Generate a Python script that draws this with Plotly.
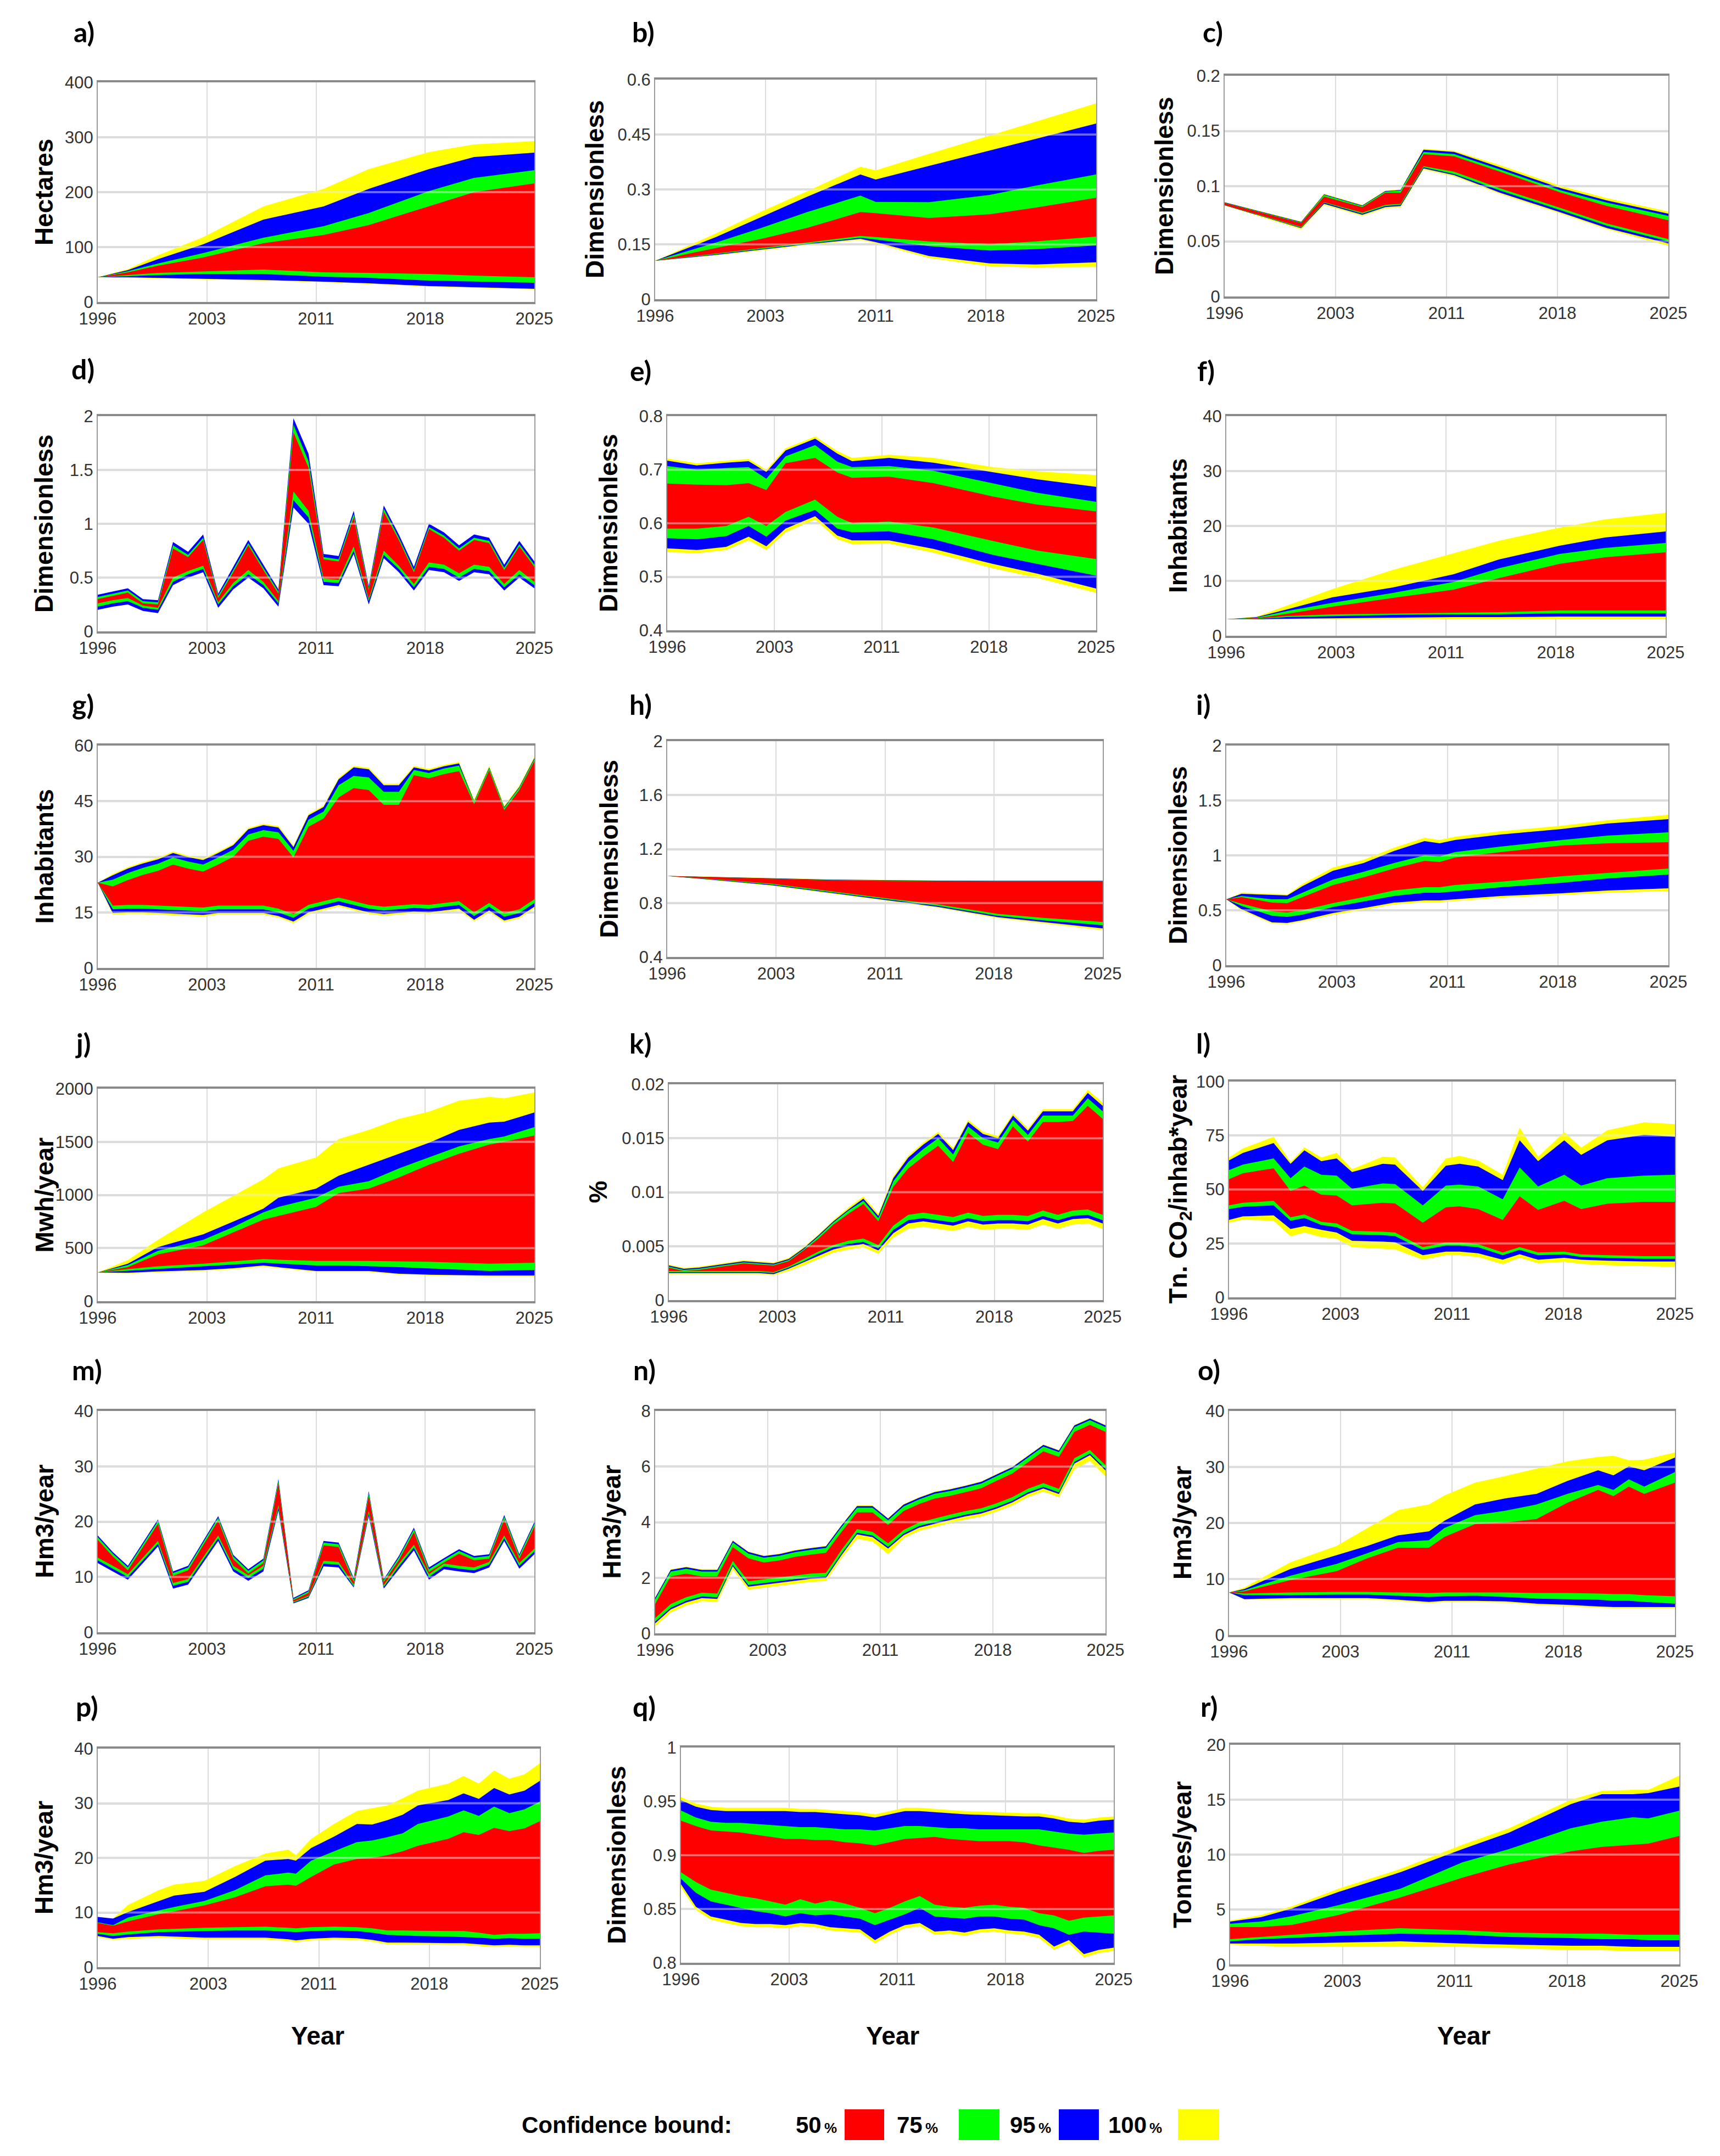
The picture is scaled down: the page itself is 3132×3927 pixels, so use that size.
import plotly.graph_objects as go

W, H = 3132, 3927
X_TICKVALS = [1996, 2003.25, 2010.5, 2017.75, 2025]
X_TICKTEXT = ["1996", "2003", "2011", "2018", "2025"]
YEARS = list(range(1996, 2026))

COL_100 = "#ffff00"
COL_95 = "#0000ff"
COL_75 = "#00ff00"
COL_50 = "#ff0000"

# ---------------- a) Hectares ----------------
a_years = [1996, 1998, 2000, 2003, 2007, 2011, 2014, 2018, 2021, 2025]
a_hi100 = [45, 60, 85, 118, 174, 206, 242, 273, 287, 293]
a_hi95 = [45, 58, 78, 105, 150, 174, 206, 242, 264, 272]
a_hi75 = [45, 56, 70, 89, 117, 138, 162, 202, 226, 240]
a_hi50 = [45, 54, 66, 81, 107, 122, 140, 174, 200, 216]
a_lo50 = [45, 49, 53, 56, 59, 54, 53, 51, 48, 45]
a_lo75 = [45, 47, 49, 51, 51, 46, 44, 39, 37, 35]
a_lo95 = [45, 45, 44, 42, 40, 37, 34, 29, 27, 24]
a_lo100 = [45, 44, 43, 41, 39, 36, 33, 28, 26, 23]

# ---------------- b) ----------------
b_years = [1996, 2000, 2003, 2006, 2009.5, 2010.5, 2014, 2018, 2021, 2025]
b_hi100 = [0.105, 0.18, 0.24, 0.295, 0.362, 0.352, 0.397, 0.447, 0.485, 0.535]
b_hi95 = [0.105, 0.17, 0.225, 0.28, 0.341, 0.327, 0.364, 0.406, 0.438, 0.48]
b_hi75 = [0.105, 0.155, 0.195, 0.238, 0.283, 0.266, 0.265, 0.285, 0.31, 0.341]
b_hi50 = [0.105, 0.14, 0.165, 0.195, 0.238, 0.235, 0.222, 0.232, 0.25, 0.277]
b_lo50 = [0.105, 0.125, 0.14, 0.155, 0.173, 0.17, 0.158, 0.15, 0.158, 0.171]
b_lo75 = [0.105, 0.123, 0.137, 0.152, 0.168, 0.163, 0.145, 0.133, 0.137, 0.147]
b_lo95 = [0.105, 0.121, 0.135, 0.15, 0.165, 0.156, 0.118, 0.098, 0.095, 0.101]
b_lo100 = [0.105, 0.12, 0.133, 0.148, 0.162, 0.153, 0.113, 0.09, 0.087, 0.088]

# ---------------- c) ----------------
c_years = [1996, 2001, 2002.5, 2005, 2006.5, 2007.5, 2009, 2011, 2014, 2018, 2021, 2025]
c_hi100 = [0.0855, 0.068, 0.093, 0.083, 0.096, 0.097, 0.134, 0.132, 0.119, 0.100, 0.089, 0.077]
c_hi95 = [0.0853, 0.0675, 0.0925, 0.0825, 0.0955, 0.0965, 0.133, 0.131, 0.117, 0.098, 0.087, 0.075]
c_hi75 = [0.0850, 0.067, 0.092, 0.082, 0.095, 0.096, 0.131, 0.129, 0.115, 0.096, 0.085, 0.073]
c_hi50 = [0.0847, 0.0665, 0.0905, 0.081, 0.094, 0.094, 0.129, 0.127, 0.113, 0.094, 0.082, 0.069]
c_lo50 = [0.0830, 0.0630, 0.0855, 0.076, 0.083, 0.084, 0.118, 0.113, 0.098, 0.080, 0.066, 0.052]
c_lo75 = [0.0828, 0.0625, 0.085, 0.075, 0.082, 0.083, 0.117, 0.111, 0.096, 0.078, 0.064, 0.050]
c_lo95 = [0.0826, 0.062, 0.084, 0.074, 0.081, 0.082, 0.116, 0.110, 0.094, 0.076, 0.062, 0.048]
c_lo100 = [0.0824, 0.061, 0.083, 0.073, 0.080, 0.081, 0.115, 0.109, 0.093, 0.075, 0.061, 0.046]

# ---------------- d) (yearly) ----------------
d_hi95 = [0.34, 0.37, 0.40, 0.30, 0.29, 0.83, 0.74, 0.90, 0.35, 0.60, 0.85, 0.62, 0.39, 1.98, 1.65,
          0.72, 0.70, 1.12, 0.42, 1.17, 0.90, 0.60, 1.00, 0.92, 0.80, 0.90, 0.87, 0.62, 0.84, 0.65]
d_hi75 = [0.32, 0.35, 0.38, 0.28, 0.27, 0.80, 0.71, 0.87, 0.33, 0.57, 0.82, 0.59, 0.37, 1.92, 1.58,
          0.69, 0.67, 1.09, 0.40, 1.14, 0.87, 0.57, 0.97, 0.89, 0.77, 0.87, 0.84, 0.59, 0.81, 0.62]
d_hi50 = [0.30, 0.33, 0.36, 0.26, 0.25, 0.77, 0.69, 0.85, 0.31, 0.55, 0.80, 0.57, 0.35, 1.85, 1.52,
          0.67, 0.65, 1.06, 0.38, 1.11, 0.85, 0.55, 0.95, 0.87, 0.75, 0.85, 0.82, 0.57, 0.79, 0.60]
d_lo50 = [0.26, 0.29, 0.31, 0.24, 0.22, 0.50, 0.56, 0.61, 0.27, 0.45, 0.57, 0.46, 0.28, 1.30, 1.12,
          0.49, 0.48, 0.79, 0.30, 0.75, 0.61, 0.44, 0.64, 0.62, 0.54, 0.62, 0.60, 0.44, 0.57, 0.46]
d_lo75 = [0.23, 0.26, 0.28, 0.22, 0.20, 0.46, 0.53, 0.58, 0.25, 0.42, 0.53, 0.43, 0.26, 1.22, 1.06,
          0.46, 0.45, 0.75, 0.28, 0.71, 0.58, 0.41, 0.60, 0.58, 0.50, 0.58, 0.56, 0.41, 0.53, 0.43]
d_lo95 = [0.20, 0.23, 0.25, 0.19, 0.17, 0.43, 0.50, 0.55, 0.22, 0.39, 0.50, 0.40, 0.23, 1.15, 1.00,
          0.43, 0.42, 0.72, 0.25, 0.68, 0.55, 0.38, 0.57, 0.55, 0.47, 0.55, 0.53, 0.38, 0.50, 0.40]

# ---------------- e) ----------------
e_years = [1996, 1998, 2000, 2001.5, 2002.7, 2004, 2006, 2007.5, 2008.5, 2011, 2014, 2018, 2021, 2025]
e_hi100 = [0.721, 0.712, 0.717, 0.720, 0.700, 0.740, 0.762, 0.735, 0.722, 0.728, 0.722, 0.705, 0.697, 0.690]
e_hi95 = [0.717, 0.708, 0.713, 0.716, 0.696, 0.736, 0.758, 0.730, 0.716, 0.722, 0.713, 0.695, 0.682, 0.668]
e_hi75 = [0.707, 0.700, 0.703, 0.705, 0.683, 0.725, 0.746, 0.715, 0.705, 0.707, 0.698, 0.675, 0.657, 0.640]
e_hi50 = [0.674, 0.672, 0.671, 0.675, 0.662, 0.712, 0.722, 0.695, 0.685, 0.687, 0.675, 0.650, 0.635, 0.622]
e_lo50 = [0.590, 0.590, 0.595, 0.612, 0.595, 0.621, 0.644, 0.612, 0.600, 0.603, 0.592, 0.567, 0.549, 0.533]
e_lo75 = [0.572, 0.570, 0.576, 0.595, 0.575, 0.605, 0.625, 0.590, 0.583, 0.585, 0.570, 0.541, 0.524, 0.502]
e_lo95 = [0.553, 0.550, 0.556, 0.575, 0.557, 0.590, 0.613, 0.577, 0.568, 0.568, 0.552, 0.524, 0.506, 0.478]
e_lo100 = [0.546, 0.544, 0.550, 0.568, 0.550, 0.583, 0.607, 0.570, 0.561, 0.562, 0.545, 0.516, 0.498, 0.470]

# ---------------- f) ----------------
f_years = [1996, 1998, 2000, 2003, 2007, 2011, 2014, 2018, 2021, 2025]
f_hi100 = [3.0, 3.5, 5.5, 8.5, 12.0, 15.0, 17.3, 19.7, 21.2, 22.4]
f_hi95 = [3.0, 3.4, 4.8, 7.0, 8.8, 11.2, 13.9, 16.4, 17.9, 19.0]
f_hi75 = [3.0, 3.3, 4.5, 6.0, 7.8, 9.8, 12.3, 14.9, 16.0, 16.9]
f_hi50 = [3.0, 3.2, 4.0, 5.3, 6.9, 8.4, 10.5, 13.1, 14.3, 15.2]
f_lo50 = [3.0, 3.1, 3.6, 3.9, 4.1, 4.2, 4.3, 4.6, 4.6, 4.6]
f_lo75 = [3.0, 3.05, 3.4, 3.6, 3.8, 3.9, 3.9, 4.1, 4.1, 4.1]
f_lo95 = [3.0, 3.0, 3.1, 3.2, 3.3, 3.4, 3.4, 3.5, 3.5, 3.5]
f_lo100 = [3.0, 2.95, 2.95, 3.0, 3.0, 3.1, 3.1, 3.1, 3.1, 3.1]

# ---------------- g) (yearly) ----------------
g_hi100 = [23, 25.4, 27.2, 28.6, 29.7, 31.4, 30.3, 29.5, 31.4, 33.5, 37.8, 38.9, 38.3, 33.0, 41.6,
           43.8, 51.3, 54.5, 54.0, 49.7, 49.7, 54.5, 53.7, 54.8, 55.6, 45.4, 54.5, 43.8, 49.2, 57.0]
g_hi95 = [23, 25.0, 26.8, 28.2, 29.3, 31.0, 29.9, 29.1, 31.0, 33.1, 37.4, 38.5, 37.9, 32.6, 41.2,
          43.4, 50.9, 54.1, 53.6, 49.3, 49.3, 54.1, 53.3, 54.4, 55.2, 45.0, 54.1, 43.4, 48.8, 56.6]
g_hi75 = [23, 23.8, 25.6, 27.0, 28.1, 29.8, 28.7, 27.9, 29.8, 31.9, 36.0, 37.2, 36.6, 31.6, 40.0,
          42.2, 49.3, 51.8, 51.4, 47.5, 47.5, 53.4, 52.6, 53.8, 54.6, 44.8, 53.9, 43.2, 48.6, 56.3]
g_hi50 = [23, 22.0, 23.7, 25.1, 26.2, 27.9, 26.8, 26.0, 27.9, 30.0, 34.3, 35.4, 34.8, 29.8, 38.1,
          40.3, 46.0, 48.5, 48.0, 44.0, 44.0, 52.0, 51.2, 52.3, 53.1, 44.2, 53.3, 42.6, 48.0, 55.8]
g_lo50 = [23, 16.8, 17.0, 17.0, 16.8, 16.7, 16.5, 16.3, 16.8, 16.8, 16.8, 16.8, 16.0, 14.5, 17.0,
          18.0, 19.0, 18.0, 17.0, 16.5, 16.8, 17.2, 17.0, 17.5, 18.0, 15.0, 17.5, 14.8, 15.8, 18.5]
g_lo75 = [23, 15.8, 16.0, 16.0, 15.8, 15.7, 15.5, 15.3, 15.8, 15.8, 15.8, 15.8, 15.0, 13.5, 16.0,
          17.0, 18.0, 17.0, 16.0, 15.5, 15.8, 16.2, 16.0, 16.5, 17.0, 14.0, 16.5, 13.8, 14.8, 17.5]
g_lo95 = [23, 14.8, 15.0, 15.0, 14.8, 14.7, 14.5, 14.3, 14.8, 14.8, 14.8, 14.8, 14.0, 12.5, 15.0,
          16.0, 17.0, 16.0, 15.0, 14.5, 14.8, 15.2, 15.0, 15.5, 16.0, 13.0, 15.5, 12.8, 13.8, 16.5]
g_lo100 = [23, 14.4, 14.6, 14.6, 14.4, 14.3, 14.1, 13.9, 14.4, 14.4, 14.4, 14.4, 13.6, 12.1, 14.6,
           15.6, 16.6, 15.6, 14.6, 14.1, 14.4, 14.8, 14.6, 15.1, 15.6, 12.6, 15.1, 12.4, 13.4, 16.1]

# ---------------- h) ----------------
h_years = [1996, 1999, 2003, 2007, 2011, 2014, 2018, 2021, 2025]
h_hi100 = [1.0, 0.995, 0.985, 0.975, 0.970, 0.968, 0.967, 0.967, 0.967]
h_hi95 = [1.0, 0.994, 0.983, 0.973, 0.968, 0.966, 0.965, 0.965, 0.965]
h_hi75 = [1.0, 0.993, 0.981, 0.971, 0.966, 0.964, 0.963, 0.963, 0.963]
h_hi50 = [1.0, 0.992, 0.979, 0.969, 0.964, 0.962, 0.961, 0.961, 0.961]
h_lo50 = [1.0, 0.978, 0.942, 0.885, 0.830, 0.790, 0.720, 0.690, 0.660]
h_lo75 = [1.0, 0.975, 0.936, 0.878, 0.822, 0.780, 0.705, 0.672, 0.635]
h_lo95 = [1.0, 0.972, 0.931, 0.872, 0.815, 0.772, 0.695, 0.660, 0.612]
h_lo100 = [1.0, 0.970, 0.928, 0.868, 0.810, 0.766, 0.688, 0.652, 0.600]

# ---------------- i) ----------------
i_years = [1996, 1997, 1999, 2000, 2001, 2003, 2005, 2007, 2009, 2010, 2011, 2014, 2018, 2021, 2025]
i_hi100 = [0.60, 0.66, 0.65, 0.645, 0.74, 0.89, 0.96, 1.07, 1.16, 1.14, 1.17, 1.22, 1.27, 1.32, 1.37]
i_hi95 = [0.60, 0.65, 0.64, 0.635, 0.72, 0.86, 0.93, 1.04, 1.13, 1.11, 1.14, 1.19, 1.24, 1.29, 1.33]
i_hi75 = [0.60, 0.63, 0.60, 0.60, 0.66, 0.78, 0.85, 0.93, 1.00, 0.99, 1.03, 1.08, 1.14, 1.18, 1.21]
i_hi50 = [0.60, 0.62, 0.57, 0.565, 0.62, 0.73, 0.80, 0.88, 0.95, 0.94, 0.98, 1.03, 1.09, 1.11, 1.12]
i_lo50 = [0.60, 0.56, 0.49, 0.48, 0.50, 0.565, 0.62, 0.68, 0.71, 0.71, 0.73, 0.76, 0.81, 0.84, 0.88]
i_lo75 = [0.60, 0.54, 0.45, 0.44, 0.46, 0.53, 0.58, 0.63, 0.66, 0.66, 0.67, 0.71, 0.75, 0.79, 0.825]
i_lo95 = [0.60, 0.51, 0.39, 0.385, 0.41, 0.475, 0.52, 0.57, 0.59, 0.59, 0.60, 0.63, 0.655, 0.68, 0.70]
i_lo100 = [0.60, 0.50, 0.38, 0.375, 0.40, 0.46, 0.505, 0.555, 0.575, 0.575, 0.585, 0.615, 0.64, 0.66, 0.675]

# ---------------- j) ----------------
j_years = [1996, 1998, 2000, 2003, 2005, 2007, 2008, 2010.5, 2012, 2014, 2016, 2018, 2020, 2022, 2023, 2025]
j_hi100 = [270, 388, 578, 836, 991, 1147, 1250, 1353, 1526, 1612, 1716, 1784, 1888, 1922, 1910, 1965]
j_hi95 = [270, 353, 509, 629, 750, 871, 974, 1060, 1181, 1284, 1388, 1491, 1612, 1681, 1690, 1776]
j_hi75 = [270, 340, 474, 578, 698, 836, 888, 974, 1078, 1129, 1250, 1353, 1457, 1526, 1550, 1638]
j_hi50 = [270, 320, 440, 526, 647, 767, 802, 888, 1017, 1060, 1164, 1284, 1388, 1474, 1500, 1560]
j_lo50 = [270, 302, 328, 353, 375, 397, 390, 379, 379, 379, 375, 371, 362, 353, 355, 362]
j_lo75 = [270, 285, 305, 328, 345, 362, 355, 336, 336, 330, 320, 310, 297, 284, 288, 293]
j_lo95 = [270, 267, 280, 293, 310, 336, 320, 284, 284, 284, 259, 250, 245, 241, 241, 241]
j_lo100 = [270, 262, 272, 285, 300, 325, 312, 276, 276, 276, 252, 243, 238, 234, 234, 234]

# ---------------- k) (yearly) ----------------
k_hi100 = [0.0033, 0.0030, 0.0031, 0.0033, 0.0035, 0.0037, 0.0036, 0.0035, 0.0039, 0.0049, 0.0061, 0.0074,
           0.0086, 0.0096, 0.0080, 0.0115, 0.0134, 0.0146, 0.0156, 0.0141, 0.0167, 0.0156, 0.0152, 0.0173,
           0.0159, 0.0177, 0.0177, 0.0177, 0.0195, 0.0183]
k_hi95 = [0.0032, 0.0029, 0.0030, 0.0032, 0.0034, 0.0036, 0.0035, 0.0034, 0.0038, 0.0048, 0.0060, 0.0073,
          0.0084, 0.0094, 0.0078, 0.0113, 0.0132, 0.0144, 0.0154, 0.0139, 0.0165, 0.0154, 0.0150, 0.0171,
          0.0157, 0.0175, 0.0175, 0.0175, 0.0192, 0.0180]
k_hi75 = [0.0031, 0.0028, 0.0029, 0.0031, 0.0033, 0.0035, 0.0034, 0.0033, 0.0037, 0.0047, 0.0059, 0.0072,
          0.0083, 0.0092, 0.0076, 0.0110, 0.0128, 0.0140, 0.0150, 0.0135, 0.0161, 0.0150, 0.0146, 0.0167,
          0.0153, 0.0171, 0.0171, 0.0171, 0.0187, 0.0175]
k_hi50 = [0.0030, 0.0027, 0.0028, 0.0030, 0.0032, 0.0034, 0.0033, 0.0032, 0.0036, 0.0046, 0.0057, 0.0070,
          0.0080, 0.0089, 0.0073, 0.0105, 0.0122, 0.0133, 0.0143, 0.0128, 0.0155, 0.0144, 0.0140, 0.0161,
          0.0147, 0.0165, 0.0165, 0.0166, 0.0180, 0.0168]
k_lo50 = [0.0027, 0.0027, 0.0027, 0.0027, 0.0027, 0.0027, 0.0027, 0.0026, 0.0031, 0.0038, 0.0045, 0.0051,
          0.0055, 0.0057, 0.0051, 0.0069, 0.0079, 0.0081, 0.0079, 0.0077, 0.0081, 0.0078, 0.0079, 0.0079,
          0.0078, 0.0083, 0.0079, 0.0083, 0.0084, 0.0079]
k_lo75 = [0.0026, 0.0026, 0.0026, 0.0026, 0.0026, 0.0026, 0.0026, 0.0025, 0.0030, 0.0036, 0.0043, 0.0049,
          0.0052, 0.0054, 0.0048, 0.0065, 0.0074, 0.0076, 0.0074, 0.0072, 0.0076, 0.0073, 0.0074, 0.0074,
          0.0073, 0.0078, 0.0074, 0.0078, 0.0079, 0.0074]
k_lo95 = [0.0025, 0.0025, 0.0025, 0.0025, 0.0025, 0.0025, 0.0025, 0.0024, 0.0029, 0.0035, 0.0041, 0.0047,
          0.0050, 0.0052, 0.0046, 0.0062, 0.0071, 0.0073, 0.0071, 0.0069, 0.0073, 0.0070, 0.0071, 0.0071,
          0.0070, 0.0075, 0.0071, 0.0075, 0.0076, 0.0071]
k_lo100 = [0.0024, 0.0024, 0.0024, 0.0024, 0.0024, 0.0024, 0.0024, 0.0023, 0.0027, 0.0032, 0.0038, 0.0044,
           0.0047, 0.0049, 0.0043, 0.0058, 0.0066, 0.0068, 0.0066, 0.0064, 0.0068, 0.0065, 0.0066, 0.0066,
           0.0065, 0.0070, 0.0066, 0.0070, 0.0071, 0.0066]

# ---------------- l) ----------------
l_years = [1996, 1996.9, 1998.9, 2000, 2000.9, 2002, 2003, 2004, 2006, 2006.8, 2008.6, 2010.1, 2011,
           2012.2, 2013.8, 2014.9, 2016.1, 2017.8, 2018.9, 2020.6, 2023, 2025]
l_hi100 = [64.8, 69.0, 74.4, 62.7, 69.5, 64.8, 67.0, 59.4, 65.2, 64.8, 51.0, 64.4, 65.6,
           63.5, 56.8, 78.6, 65.2, 76.5, 69.4, 77.4, 81.1, 80.3]
l_hi95 = [63.5, 66.9, 71.5, 61.9, 68.1, 63.1, 64.4, 58.1, 61.9, 61.5, 49.3, 61.0, 61.9,
          60.6, 54.3, 72.8, 63.1, 72.8, 66.0, 72.8, 75.3, 74.4]
l_hi75 = [59.0, 61.5, 64.4, 55.2, 60.6, 56.8, 56.4, 50.3, 52.8, 52.5, 42.6, 51.8, 52.2,
          51.4, 45.4, 60.2, 51.4, 56.8, 51.8, 55.2, 56.4, 56.8]
l_hi50 = [54.8, 57.5, 59.8, 49.3, 51.8, 47.6, 47.2, 42.6, 43.8, 43.5, 34.6, 41.7, 42.2,
          40.9, 35.9, 46.8, 40.5, 44.7, 40.9, 43.4, 44.3, 44.3]
l_lo50 = [42.6, 43.8, 44.7, 37.1, 38.4, 35.0, 34.2, 30.8, 30.4, 30.0, 23.3, 25.4, 25.4,
          24.6, 20.8, 23.3, 20.8, 21.2, 19.9, 19.5, 19.1, 19.1]
l_lo75 = [40.9, 42.0, 42.6, 35.5, 36.8, 33.5, 32.5, 29.2, 28.8, 28.4, 22.0, 24.0, 24.0,
          23.2, 19.5, 22.0, 19.5, 19.9, 18.7, 18.3, 17.9, 17.9]
l_lo95 = [35.9, 37.5, 38.0, 31.7, 33.0, 31.3, 30.0, 26.2, 25.8, 25.5, 19.5, 21.2, 21.2,
          20.4, 17.4, 20.0, 17.4, 18.3, 17.4, 17.0, 16.6, 16.6]
l_lo100 = [34.6, 36.0, 35.5, 28.3, 30.0, 27.9, 27.1, 23.3, 22.5, 22.2, 17.4, 19.5, 19.5,
           18.7, 15.3, 18.3, 15.8, 16.5, 15.5, 14.9, 14.5, 14.1]

# ---------------- m) (yearly) ----------------
m_hi95 = [17.5, 14.5, 12.0, 16.2, 20.4, 11.0, 12.0, 16.5, 21.0, 14.0, 11.4, 13.3, 27.7, 6.2, 7.6,
          16.5, 16.2, 9.8, 25.5, 9.6, 13.8, 18.9, 11.7, 13.4, 15.0, 13.8, 14.1, 21.2, 14.1, 19.9]
m_hi75 = [17.2, 14.2, 11.7, 15.9, 20.1, 10.7, 11.7, 16.2, 20.7, 13.7, 11.1, 13.0, 27.4, 6.0, 7.4,
          16.2, 15.9, 9.5, 25.2, 9.4, 13.5, 18.6, 11.4, 13.1, 14.7, 13.5, 13.8, 20.9, 13.8, 19.6]
m_hi50 = [16.7, 13.7, 11.2, 15.4, 19.6, 10.2, 11.2, 15.7, 20.2, 13.2, 10.6, 12.5, 26.9, 5.8, 7.1,
          15.7, 15.4, 9.1, 24.7, 9.1, 13.0, 18.1, 10.9, 12.6, 14.2, 13.0, 13.3, 20.4, 13.3, 19.1]
m_lo50 = [13.5, 12.0, 10.5, 13.5, 16.5, 8.9, 9.6, 13.5, 17.5, 12.0, 10.3, 12.0, 23.0, 5.5, 6.6,
          12.9, 12.7, 8.6, 22.0, 8.5, 12.4, 15.8, 10.5, 12.4, 12.0, 11.7, 12.7, 17.5, 12.5, 15.1]
m_lo75 = [13.0, 11.5, 10.0, 13.0, 16.0, 8.4, 9.1, 13.0, 17.0, 11.5, 9.8, 11.5, 22.5, 5.35, 6.4,
          12.4, 12.2, 8.3, 21.5, 8.2, 11.9, 15.3, 10.0, 11.9, 11.5, 11.2, 12.2, 17.0, 12.0, 14.6]
m_lo95 = [12.5, 11.0, 9.5, 12.5, 15.5, 7.9, 8.6, 12.5, 16.5, 11.0, 9.3, 11.0, 22.0, 5.2, 6.2,
          11.9, 11.7, 8.1, 21.0, 7.9, 11.4, 14.8, 9.5, 11.4, 11.0, 10.7, 11.7, 16.5, 11.5, 14.1]

# ---------------- n) (yearly) ----------------
n_hi100 = [1.3, 2.3, 2.4, 2.3, 2.3, 3.35, 2.95, 2.8, 2.87, 3.0, 3.08, 3.15, 3.9, 4.6, 4.6,
           4.15, 4.65, 4.9, 5.1, 5.2, 5.33, 5.47, 5.74, 6.0, 6.4, 6.8, 6.6, 7.5, 7.75, 7.5]
n_hi95 = [1.28, 2.28, 2.38, 2.28, 2.28, 3.33, 2.93, 2.78, 2.85, 2.98, 3.06, 3.13, 3.88, 4.58, 4.58,
          4.13, 4.63, 4.88, 5.08, 5.18, 5.31, 5.45, 5.72, 5.98, 6.38, 6.78, 6.58, 7.48, 7.73, 7.48]
n_hi75 = [1.22, 2.22, 2.32, 2.22, 2.22, 3.27, 2.87, 2.72, 2.79, 2.92, 3.0, 3.07, 3.82, 4.52, 4.52,
          4.07, 4.57, 4.82, 5.02, 5.12, 5.25, 5.39, 5.66, 5.92, 6.32, 6.72, 6.52, 7.42, 7.67, 7.42]
n_hi50 = [1.05, 2.05, 2.15, 2.05, 2.05, 3.1, 2.7, 2.55, 2.62, 2.75, 2.83, 2.9, 3.65, 4.35, 4.35,
          3.9, 4.4, 4.65, 4.85, 4.95, 5.08, 5.22, 5.49, 5.75, 6.15, 6.55, 6.35, 7.25, 7.5, 7.25]
n_lo50 = [0.55, 1.05, 1.3, 1.46, 1.43, 2.6, 1.87, 1.94, 2.0, 2.08, 2.15, 2.18, 3.0, 3.75, 3.65,
          3.24, 3.72, 3.99, 4.13, 4.27, 4.4, 4.5, 4.68, 4.9, 5.2, 5.4, 5.2, 6.3, 6.6, 6.05]
n_lo75 = [0.42, 0.92, 1.17, 1.33, 1.3, 2.47, 1.74, 1.81, 1.87, 1.95, 2.02, 2.05, 2.87, 3.62, 3.52,
          3.11, 3.59, 3.86, 4.0, 4.14, 4.27, 4.37, 4.55, 4.77, 5.07, 5.27, 5.07, 6.17, 6.47, 5.92]
n_lo95 = [0.36, 0.86, 1.11, 1.27, 1.24, 2.41, 1.68, 1.75, 1.81, 1.89, 1.96, 1.99, 2.81, 3.56, 3.46,
          3.05, 3.53, 3.8, 3.94, 4.08, 4.21, 4.31, 4.49, 4.71, 5.01, 5.21, 5.01, 6.11, 6.41, 5.86]
n_lo100 = [0.25, 0.75, 1.0, 1.16, 1.13, 2.3, 1.57, 1.64, 1.7, 1.78, 1.85, 1.88, 2.7, 3.4, 3.3,
           2.85, 3.42, 3.69, 3.83, 3.97, 4.1, 4.2, 4.38, 4.6, 4.9, 5.1, 4.9, 5.9, 6.2, 5.65]

# ---------------- o) ----------------
o_years = [1996, 1997, 2000, 2003, 2005, 2007, 2009, 2010, 2012, 2014, 2016, 2018, 2020, 2021, 2022, 2023, 2025]
o_hi100 = [7.6, 8.5, 13.0, 15.9, 19.1, 22.3, 23.3, 24.9, 27.2, 28.4, 29.7, 31.0, 31.8, 32.0, 31.2, 31.3, 32.6]
o_hi95 = [7.6, 8.2, 11.8, 14.3, 15.9, 17.8, 18.5, 20.4, 23.3, 24.4, 25.2, 27.5, 29.4, 28.5, 30.1, 29.4, 31.7]
o_hi75 = [7.6, 8.0, 10.6, 12.7, 14.6, 16.6, 16.9, 19.1, 21.4, 22.2, 23.3, 25.2, 26.8, 25.9, 27.8, 26.5, 29.1]
o_hi50 = [7.6, 7.8, 9.8, 11.4, 13.7, 15.6, 15.6, 17.5, 19.8, 20.1, 20.7, 23.6, 25.9, 24.8, 26.5, 25.2, 27.2]
o_lo50 = [7.6, 7.4, 7.6, 7.7, 7.7, 7.6, 7.5, 7.6, 7.6, 7.6, 7.5, 7.5, 7.4, 7.3, 7.3, 7.1, 6.9]
o_lo75 = [7.6, 7.1, 7.1, 7.2, 7.2, 7.0, 6.8, 6.9, 7.0, 6.8, 6.5, 6.4, 6.3, 6.1, 6.1, 5.9, 5.6]
o_lo95 = [7.6, 6.4, 6.6, 6.6, 6.6, 6.3, 5.9, 6.1, 6.1, 6.0, 5.6, 5.4, 5.1, 5.0, 5.0, 5.0, 5.0]
o_lo100 = [7.6, 6.3, 6.4, 6.4, 6.4, 6.1, 5.7, 5.9, 5.9, 5.8, 5.4, 5.2, 4.9, 4.8, 4.8, 4.8, 4.8]

# ---------------- p) ----------------
p_years = [1996, 1997, 1998, 2000, 2001, 2003, 2005, 2007, 2008.5, 2009, 2010, 2011.5, 2013, 2014,
           2015, 2016, 2017, 2019, 2020, 2021, 2022, 2023, 2024, 2025]
p_hi100 = [9.2, 8.9, 11.4, 14.1, 15.1, 15.8, 18.5, 20.8, 21.5, 20.5, 23.5, 26.2, 28.6, 29.1,
           29.6, 30.9, 32.3, 33.6, 35.0, 33.6, 36.0, 34.5, 35.3, 37.3]
p_hi95 = [9.2, 8.9, 10.1, 12.1, 13.1, 13.8, 16.5, 19.5, 19.8, 19.5, 21.8, 23.9, 26.2, 26.1,
          26.9, 27.9, 29.6, 30.6, 31.8, 30.8, 32.8, 31.6, 32.3, 34.1]
p_hi75 = [8.2, 7.7, 9.1, 10.4, 11.0, 12.1, 14.1, 16.8, 17.3, 17.1, 19.5, 21.2, 22.9, 23.2,
          23.8, 24.5, 26.2, 27.6, 28.7, 27.7, 29.4, 28.2, 28.9, 30.3]
p_hi50 = [8.1, 7.6, 8.4, 9.7, 10.2, 11.3, 12.8, 14.8, 15.1, 14.9, 16.5, 18.8, 19.8, 20.0,
          20.5, 21.2, 22.2, 23.5, 24.7, 24.2, 25.5, 24.9, 25.4, 26.7]
p_lo50 = [6.4, 6.2, 6.5, 6.9, 7.0, 7.2, 7.3, 7.4, 7.2, 7.1, 7.3, 7.4, 7.3, 7.1,
          6.7, 6.7, 6.7, 6.6, 6.6, 6.3, 5.9, 6.1, 6.1, 6.2]
p_lo75 = [6.1, 5.7, 6.0, 6.4, 6.5, 6.6, 6.7, 6.7, 6.5, 6.4, 6.6, 6.7, 6.6, 6.3,
          5.9, 5.8, 5.7, 5.6, 5.5, 5.4, 5.2, 5.3, 5.2, 5.2]
p_lo95 = [5.7, 5.2, 5.5, 5.7, 5.6, 5.4, 5.4, 5.4, 5.1, 4.9, 5.2, 5.4, 5.3, 5.0,
          4.5, 4.5, 4.5, 4.4, 4.4, 4.2, 4.0, 4.1, 4.0, 4.0]
p_lo100 = [5.5, 5.0, 5.2, 5.4, 5.3, 5.1, 5.1, 5.1, 4.8, 4.6, 4.9, 5.1, 5.0, 4.7,
           4.2, 4.2, 4.2, 4.1, 4.1, 3.9, 3.7, 3.8, 3.7, 3.7]

# ---------------- q) (yearly) ----------------
q_hi100 = [0.954, 0.948, 0.945, 0.944, 0.944, 0.944, 0.944, 0.944, 0.943, 0.943, 0.942, 0.941, 0.940, 0.938, 0.941,
           0.944, 0.944, 0.943, 0.942, 0.941, 0.9405, 0.940, 0.9395, 0.939, 0.939, 0.937, 0.934, 0.933, 0.935, 0.936]
q_hi95 = [0.951, 0.945, 0.942, 0.941, 0.941, 0.941, 0.941, 0.941, 0.940, 0.940, 0.939, 0.938, 0.937, 0.935, 0.938,
          0.941, 0.941, 0.940, 0.939, 0.938, 0.9375, 0.937, 0.9365, 0.936, 0.936, 0.934, 0.931, 0.930, 0.932, 0.933]
q_hi75 = [0.9415, 0.935, 0.931, 0.930, 0.930, 0.929, 0.928, 0.927, 0.926, 0.926, 0.925, 0.924, 0.924, 0.923, 0.925,
          0.927, 0.927, 0.926, 0.925, 0.925, 0.924, 0.924, 0.924, 0.924, 0.924, 0.922, 0.920, 0.919, 0.920, 0.921]
q_hi50 = [0.932, 0.927, 0.923, 0.922, 0.921, 0.919, 0.917, 0.915, 0.915, 0.914, 0.914, 0.912, 0.911, 0.909, 0.912,
          0.915, 0.916, 0.917, 0.915, 0.914, 0.913, 0.913, 0.913, 0.912, 0.909, 0.907, 0.905, 0.902, 0.904, 0.905]
q_lo50 = [0.884, 0.875, 0.868, 0.865, 0.862, 0.860, 0.857, 0.854, 0.859, 0.855, 0.858, 0.855, 0.851, 0.846, 0.851,
          0.857, 0.862, 0.854, 0.852, 0.851, 0.853, 0.854, 0.852, 0.851, 0.846, 0.844, 0.839, 0.842, 0.843, 0.844]
q_lo75 = [0.878, 0.865, 0.857, 0.854, 0.851, 0.848, 0.846, 0.843, 0.846, 0.844, 0.845, 0.843, 0.841, 0.835, 0.840,
          0.845, 0.851, 0.843, 0.842, 0.841, 0.843, 0.843, 0.841, 0.840, 0.835, 0.832, 0.826, 0.829, 0.828, 0.827]
q_lo95 = [0.873, 0.852, 0.843, 0.840, 0.837, 0.836, 0.836, 0.835, 0.837, 0.836, 0.833, 0.832, 0.831, 0.821, 0.829,
          0.835, 0.837, 0.829, 0.830, 0.828, 0.831, 0.832, 0.830, 0.829, 0.826, 0.815, 0.821, 0.808, 0.812, 0.814]
q_lo100 = [0.870, 0.849, 0.840, 0.837, 0.834, 0.833, 0.833, 0.832, 0.834, 0.833, 0.830, 0.829, 0.828, 0.818, 0.826,
           0.832, 0.834, 0.826, 0.827, 0.825, 0.828, 0.829, 0.827, 0.826, 0.823, 0.812, 0.818, 0.805, 0.809, 0.811]

# ---------------- r) ----------------
r_years = [1996, 1998, 2000, 2003, 2007, 2011, 2014, 2018, 2020, 2022, 2023, 2025]
r_hi100 = [4.0, 4.5, 5.3, 6.9, 8.7, 10.9, 12.4, 15.0, 15.8, 15.9, 15.9, 17.2]
r_hi95 = [3.9, 4.3, 5.1, 6.6, 8.4, 10.5, 12.0, 14.6, 15.5, 15.5, 15.6, 16.2]
r_hi75 = [3.7, 3.9, 4.4, 5.4, 6.9, 9.3, 10.5, 12.4, 13.0, 13.4, 13.3, 14.0]
r_hi50 = [3.4, 3.4, 3.6, 4.5, 6.1, 7.9, 9.1, 10.3, 10.7, 10.9, 11.0, 11.7]
r_lo50 = [2.3, 2.5, 2.7, 3.0, 3.3, 3.1, 2.9, 2.8, 2.8, 2.7, 2.7, 2.7]
r_lo75 = [2.1, 2.3, 2.4, 2.6, 2.8, 2.7, 2.5, 2.4, 2.3, 2.3, 2.2, 2.2]
r_lo95 = [1.9, 1.9, 1.9, 2.0, 2.1, 1.9, 1.8, 1.7, 1.7, 1.6, 1.6, 1.6]
r_lo100 = [1.8, 1.7, 1.6, 1.6, 1.6, 1.6, 1.5, 1.3, 1.3, 1.2, 1.2, 1.2]

TICK_FONT = "Liberation Sans, Arial, sans-serif"
BOLD_FONT = "Liberation Sans, Arial, sans-serif"
LETTER_FONT = "Lato, Open Sans, sans-serif"

# panel: letter, years, bands (100,95,75,50) as (lo, hi) or None, y title, y range, dtick,
# plot box in page pixels (left, right, top, bottom), letter position, y-title x
panels = [
    ("a", a_years, [(a_lo100, a_hi100), (a_lo95, a_hi95), (a_lo75, a_hi75), (a_lo50, a_hi50)],
     "Hectares", [0, 400], 100, (170, 965, 142, 542), (145, 50), 72),
    ("b", b_years, [(b_lo100, b_hi100), (b_lo95, b_hi95), (b_lo75, b_hi75), (b_lo50, b_hi50)],
     "Dimensionless", [0, 0.6], 0.15, (1185, 1988, 137, 537), (1163, 50), 1075),
    ("c", c_years, [(c_lo100, c_hi100), (c_lo95, c_hi95), (c_lo75, c_hi75), (c_lo50, c_hi50)],
     "Dimensionless", [0, 0.2], 0.05, (2222, 3030, 130, 532), (2200, 50), 2112),
    ("d", YEARS, [None, (d_lo95, d_hi95), (d_lo75, d_hi75), (d_lo50, d_hi50)],
     "Dimensionless", [0, 2], 0.5, (170, 965, 750, 1142), (143, 664), 72),
    ("e", e_years, [(e_lo100, e_hi100), (e_lo95, e_hi95), (e_lo75, e_hi75), (e_lo50, e_hi50)],
     "Dimensionless", [0.4, 0.8], 0.1, (1207, 1988, 750, 1140), (1158, 667), 1100),
    ("f", f_years, [(f_lo100, f_hi100), (f_lo95, f_hi95), (f_lo75, f_hi75), (f_lo50, f_hi50)],
     "Inhabitants", [0, 40], 10, (2225, 3025, 750, 1150), (2188, 667), 2137),
    ("g", YEARS, [(g_lo100, g_hi100), (g_lo95, g_hi95), (g_lo75, g_hi75), (g_lo50, g_hi50)],
     "Inhabitants", [0, 60], 15, (170, 965, 1350, 1755), (143, 1275), 72),
    ("h", h_years, [(h_lo100, h_hi100), (h_lo95, h_hi95), (h_lo75, h_hi75), (h_lo50, h_hi50)],
     "Dimensionless", [0.4, 2], 0.4, (1207, 2000, 1342, 1735), (1158, 1275), 1100),
    ("i", i_years, [(i_lo100, i_hi100), (i_lo95, i_hi95), (i_lo75, i_hi75), (i_lo50, i_hi50)],
     "Dimensionless", [0, 2], 0.5, (2225, 3030, 1350, 1750), (2183, 1275), 2137),
    ("j", j_years, [(j_lo100, j_hi100), (j_lo95, j_hi95), (j_lo75, j_hi75), (j_lo50, j_hi50)],
     "Mwh/year", [0, 2000], 500, (170, 965, 1975, 2362), (143, 1892), 72),
    ("k", YEARS, [(k_lo100, k_hi100), (k_lo95, k_hi95), (k_lo75, k_hi75), (k_lo50, k_hi50)],
     "%", [0, 0.02], 0.005, (1210, 2000, 1967, 2360), (1158, 1892), 1080),
    ("l", l_years, [(l_lo100, l_hi100), (l_lo95, l_hi95), (l_lo75, l_hi75), (l_lo50, l_hi50)],
     "Tn. CO<sub>2</sub>/inhab*year", [0, 100], 25, (2230, 3042, 1962, 2355), (2183, 1892), 2140),
    ("m", YEARS, [None, (m_lo95, m_hi95), (m_lo75, m_hi75), (m_lo50, m_hi50)],
     "Hm3/year", [0, 40], 10, (170, 965, 2562, 2965), (150, 2487), 72),
    ("n", YEARS, [(n_lo100, n_hi100), (n_lo95, n_hi95), (n_lo75, n_hi75), (n_lo50, n_hi50)],
     "Hm3/year", [0, 8], 2, (1185, 2005, 2562, 2967), (1165, 2487), 1105),
    ("o", o_years, [(o_lo100, o_hi100), (o_lo95, o_hi95), (o_lo75, o_hi75), (o_lo50, o_hi50)],
     "Hm3/year", [0, 40], 10, (2230, 3042, 2562, 2970), (2193, 2487), 2145),
    ("p", p_years, [(p_lo100, p_hi100), (p_lo95, p_hi95), (p_lo75, p_hi75), (p_lo50, p_hi50)],
     "Hm3/year", [0, 40], 10, (170, 975, 3177, 3575), (150, 3100), 72),
    ("q", YEARS, [(q_lo100, q_hi100), (q_lo95, q_hi95), (q_lo75, q_hi75), (q_lo50, q_hi50)],
     "Dimensionless", [0.8, 1], 0.05, (1232, 2020, 3175, 3567), (1165, 3100), 1115),
    ("r", r_years, [(r_lo100, r_hi100), (r_lo95, r_hi95), (r_lo75, r_hi75), (r_lo50, r_hi50)],
     "Tonnes/year", [0, 20], 5, (2232, 3050, 3170, 3570), (2193, 3100), 2145),
]

BAND_COLORS = [COL_100, COL_95, COL_75, COL_50]


def fx(px):
    return px / W


def fy(py):
    return 1 - py / H


fig = go.Figure()
layout = dict(
    width=W, height=H, margin=dict(l=0, r=0, t=0, b=0),
    paper_bgcolor="white", plot_bgcolor="white", showlegend=False,
    template="none",
)
annotations = []
shapes = []

for idx, (letter, years, bands, ytitle, yrng, dtick, box, lpos, tx) in enumerate(panels):
    n = idx + 1
    sfx = "" if n == 1 else str(n)
    xa, ya = "x" + sfx, "y" + sfx
    left, right, top, bottom = box
    for band, col in zip(bands, BAND_COLORS):
        if band is None:
            continue
        lo, hi = band
        fig.add_trace(go.Scatter(
            x=list(years) + list(years)[::-1],
            y=list(hi) + list(lo)[::-1],
            fill="toself", fillcolor=col, mode="lines",
            line=dict(width=0, color=col), hoverinfo="skip",
            xaxis=xa, yaxis=ya, showlegend=False))
    layout["xaxis" + sfx] = dict(
        domain=[fx(left), fx(right)], anchor=ya, range=[1996, 2025],
        tickmode="array", tickvals=X_TICKVALS, ticktext=X_TICKTEXT,
        showgrid=True, gridcolor="#dcdcdc", gridwidth=2,
        showline=True, mirror=True, linecolor="#8a8a8a", linewidth=4,
        ticks="", zeroline=False,
        tickfont=dict(family=TICK_FONT, size=31, color="#333333"),
    )
    layout["yaxis" + sfx] = dict(
        domain=[fy(bottom), fy(top)], anchor=xa, range=yrng,
        tick0=yrng[0], dtick=dtick,
        showgrid=True, gridcolor="#d2d2d2", gridwidth=4,
        showline=True, mirror=True, linecolor="#9a9a9a", linewidth=2,
        ticks="", zeroline=False,
        tickfont=dict(family=TICK_FONT, size=31, color="#333333"),
    )
    # light gridlines drawn over the bands (as in the original rendering)
    k = 1
    while True:
        v = yrng[0] + k * dtick
        if v >= yrng[1] - dtick * 0.01:
            break
        shapes.append(dict(type="line", xref="paper", yref=ya,
                           x0=fx(left), x1=fx(right), y0=v, y1=v,
                           line=dict(color="rgba(235,235,235,0.45)", width=4), layer="above"))
        k += 1
    # panel letter
    annotations.append(dict(text="<b>%s)</b>" % letter, x=fx(lpos[0]), y=fy(lpos[1]),
                            xref="paper", yref="paper", showarrow=False,
                            xanchor="center", yanchor="middle",
                            font=dict(family=LETTER_FONT, size=50, color="black")))
    # y title
    annotations.append(dict(text="<b>%s</b>" % ytitle, x=fx(tx), y=fy((top + bottom) / 2),
                            xref="paper", yref="paper", showarrow=False, textangle=-90,
                            xanchor="center", yanchor="middle",
                            font=dict(family=BOLD_FONT, size=46, color="black")))

# "Year" labels under the bottom row
for cx in (570, 1617, 2657):
    annotations.append(dict(text="<b>Year</b>", x=fx(cx), y=fy(3700), xref="paper", yref="paper",
                            showarrow=False, xanchor="center", yanchor="middle",
                            font=dict(family=TICK_FONT, size=46, color="black")))

# legend
LEG_Y = 3862
annotations.append(dict(text="<b>Confidence bound:</b>", x=fx(1133), y=fy(LEG_Y), xref="paper",
                        yref="paper", showarrow=False, xanchor="center", yanchor="middle",
                        font=dict(family=TICK_FONT, size=42, color="black")))
legend_items = [("50", 1490, (1530, 1602), COL_50), ("75", 1674, (1738, 1812), COL_75),
                ("95", 1880, (1920, 1993), COL_95), ("100", 2082, (2137, 2212), COL_100)]
for lab, lx, (bx0, bx1), col in legend_items:
    annotations.append(dict(text="<b>%s</b>" % lab, x=fx(lx), y=fy(LEG_Y), xref="paper", yref="paper",
                            showarrow=False, xanchor="right", yanchor="middle",
                            font=dict(family=TICK_FONT, size=42, color="black")))
    annotations.append(dict(text="<b>%</b>", x=fx(lx + 1), y=fy(LEG_Y + 6), xref="paper", yref="paper",
                            showarrow=False, xanchor="left", yanchor="middle",
                            font=dict(family=TICK_FONT, size=26, color="black")))
    shapes.append(dict(type="rect", xref="paper", yref="paper", x0=fx(bx0), x1=fx(bx1),
                       y0=fy(LEG_Y + 28), y1=fy(LEG_Y - 28), fillcolor=col,
                       line=dict(width=0)))

layout["annotations"] = annotations
layout["shapes"] = shapes
fig.update_layout(**layout)
fig.write_html("out.html")
